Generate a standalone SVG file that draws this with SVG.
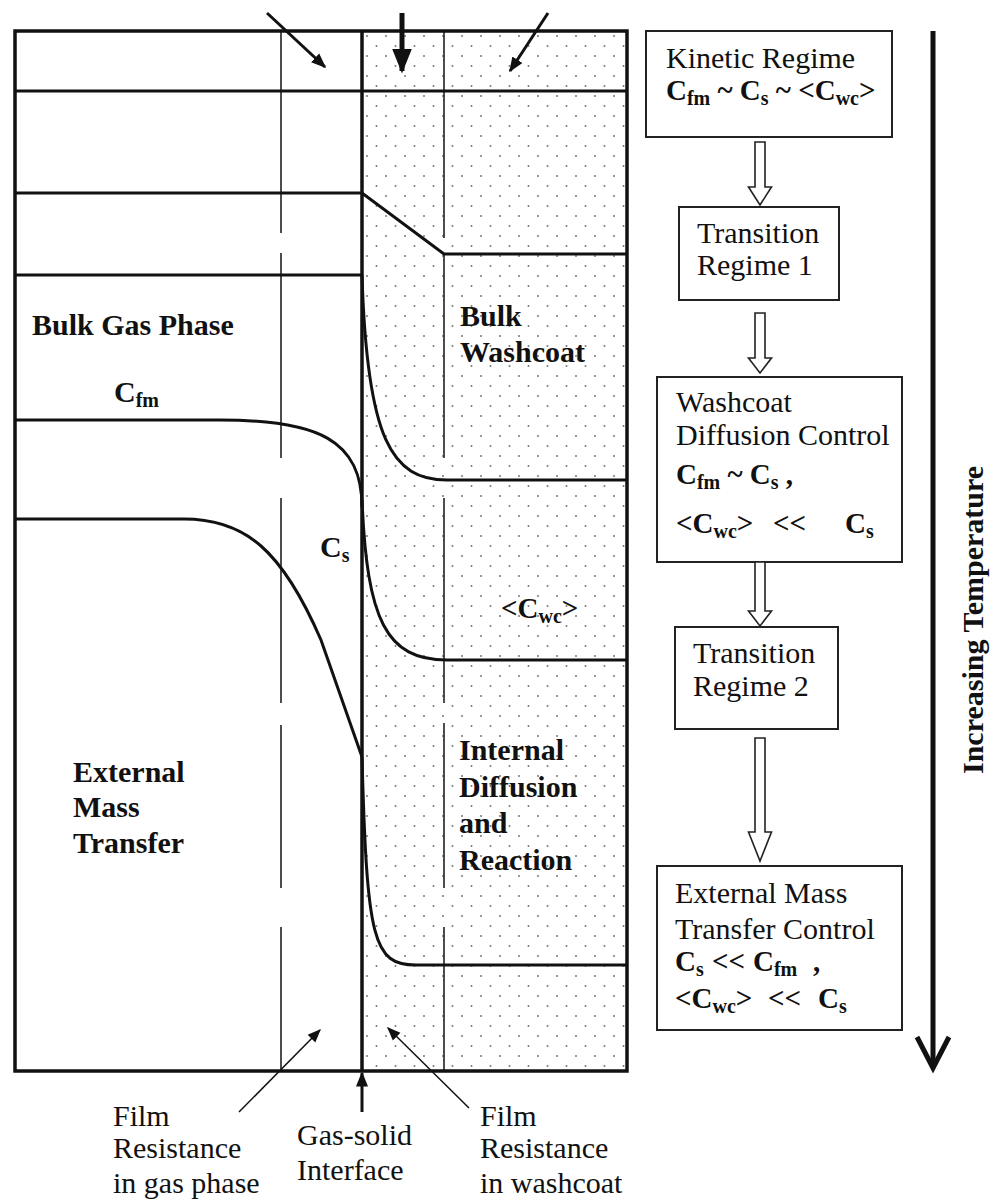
<svg xmlns="http://www.w3.org/2000/svg" width="990" height="1200" viewBox="0 0 990 1200">
<style>
.t{font-family:"Liberation Serif","Times New Roman",serif;fill:#111}
.b{font-weight:bold}
.r{font-size:30px}
.lb{font-size:30px;font-weight:bold}
.box{fill:#fff;stroke:#222;stroke-width:2}
.prof{fill:none;stroke:#111;stroke-width:3}
.dash{fill:none;stroke:#222;stroke-width:1.6}
.blk{fill:#fff;stroke:#222;stroke-width:1.6}
.ar{fill:none;stroke:#111}
</style>
<defs>
<pattern id="dots" x="362" y="31" width="19" height="20" patternUnits="userSpaceOnUse">
<circle cx="5" cy="5" r="1" fill="#777"/>
<circle cx="14.5" cy="15" r="1" fill="#777"/>
</pattern>
<marker id="ah" viewBox="0 0 10 10" refX="9" refY="5" markerWidth="5" markerHeight="5" orient="auto" markerUnits="strokeWidth">
<path d="M0,1 L10,5 L0,9 Z" fill="#111"/>
</marker>
<marker id="ahs" viewBox="0 0 10 10" refX="9" refY="5" markerWidth="9" markerHeight="9" orient="auto" markerUnits="strokeWidth">
<path d="M0,1 L10,5 L0,9 Z" fill="#111"/>
</marker>
</defs>
<rect width="990" height="1200" fill="#fff"/>

<g id="channel">
<rect x="362" y="31" width="265" height="1040" fill="url(#dots)"/>
<g id="dashed-lines">
<path class="dash" d="M281,31V233M281,253V458M281,498V703M281,725V888M281,927V1071"/>
<path class="dash" d="M444,31V238M444,254V458M444,498V703M444,723V888M444,927V1071"/>
</g>
<line x1="362" y1="31" x2="362" y2="1071" stroke="#111" stroke-width="3.5"/>
<rect x="15" y="31" width="612" height="1040" fill="none" stroke="#111" stroke-width="3.5"/>
</g>

<g id="profiles">
<path class="prof" d="M15,91H627"/>
<path class="prof" d="M15,193H362L444,254H627"/>
<path class="prof" d="M15,275H362"/>
<path class="prof" d="M362,275C367,440 392,480 447,480H627"/>
<path class="prof" d="M15,420H220C318,420 362,440 362,507"/>
<path class="prof" d="M362,500C367,620 386,660 447,660H627"/>
<path class="prof" d="M15,519H184C245,519 282,550 321,640L362,757"/>
<path class="prof" d="M362,757C367,940 373,965 416,965H627"/>
</g>

<g id="labels-left">
<text class="t lb" x="32" y="335">Bulk Gas Phase</text>
<text class="t b" x="114" y="402" font-size="30">C<tspan font-size="20" dy="5">fm</tspan></text>
<text class="t lb" x="460" y="326">Bulk</text>
<text class="t lb" x="460" y="362">Washcoat</text>
<text class="t b" x="320" y="557" font-size="30">C<tspan font-size="20" dy="5">s</tspan></text>
<text class="t b" x="501" y="618" font-size="29">&lt;C<tspan font-size="20" dy="5">wc</tspan><tspan dy="-5">&gt;</tspan></text>
<text class="t lb" x="73" y="782">External</text>
<text class="t lb" x="73" y="817">Mass</text>
<text class="t lb" x="73" y="853">Transfer</text>
<text class="t lb" x="459" y="760">Internal</text>
<text class="t lb" x="459" y="797">Diffusion</text>
<text class="t lb" x="459" y="833">and</text>
<text class="t lb" x="459" y="870">Reaction</text>
</g>

<g id="labels-bottom">
<text class="t r" x="113" y="1126">Film</text>
<text class="t r" x="113" y="1158">Resistance</text>
<text class="t r" x="113" y="1193">in gas phase</text>
<text class="t r" x="297" y="1145">Gas-solid</text>
<text class="t r" x="297" y="1180">Interface</text>
<text class="t r" x="480" y="1126">Film</text>
<text class="t r" x="480" y="1158">Resistance</text>
<text class="t r" x="480" y="1193">in washcoat</text>
</g>

<g id="node-kinetic">
<rect class="box" x="646" y="31" width="246" height="106"/>
<text class="t r" x="666" y="68">Kinetic Regime</text>
<text class="t b" x="666" y="100" font-size="29">C<tspan font-size="20" dy="5">fm</tspan><tspan dy="-5"> ~ C</tspan><tspan font-size="20" dy="5">s</tspan><tspan dy="-5"> ~ &lt;C</tspan><tspan font-size="20" dy="5">wc</tspan><tspan dy="-5">&gt;</tspan></text>
</g>
<g id="node-transition1">
<rect class="box" x="679" y="207" width="160" height="93"/>
<text class="t r" x="697" y="243">Transition</text>
<text class="t r" x="697" y="275">Regime 1</text>
</g>
<g id="node-washcoat">
<rect class="box" x="657" y="377" width="245" height="185"/>
<text class="t r" x="676" y="412">Washcoat</text>
<text class="t r" x="676" y="445">Diffusion Control</text>
<text class="t b" x="676" y="484" font-size="29">C<tspan font-size="20" dy="5">fm</tspan><tspan dy="-5"> ~ C</tspan><tspan font-size="20" dy="5">s</tspan><tspan dy="-5"> ,</tspan></text>
<text class="t b" x="676" y="533" font-size="29">&lt;C<tspan font-size="20" dy="5">wc</tspan><tspan dy="-5">&gt;</tspan></text>
<text class="t b" x="773" y="533" font-size="29">&lt;&lt;</text>
<text class="t b" x="845" y="533" font-size="29">C<tspan font-size="20" dy="5">s</tspan></text>
</g>
<g id="node-transition2">
<rect class="box" x="675" y="627" width="163" height="102"/>
<text class="t r" x="693" y="663">Transition</text>
<text class="t r" x="693" y="696">Regime 2</text>
</g>
<g id="node-external">
<rect class="box" x="657" y="866" width="245" height="164"/>
<text class="t r" x="675" y="903">External Mass</text>
<text class="t r" x="675" y="939">Transfer Control</text>
<text class="t b" x="675" y="971" font-size="29">C<tspan font-size="20" dy="5">s</tspan></text>
<text class="t b" x="712" y="971" font-size="29">&lt;&lt;</text>
<text class="t b" x="753" y="971" font-size="29">C<tspan font-size="20" dy="5">fm</tspan></text>
<text class="t b" x="813" y="971" font-size="29">,</text>
<text class="t b" x="675" y="1008" font-size="29">&lt;C<tspan font-size="20" dy="5">wc</tspan><tspan dy="-5">&gt;</tspan></text>
<text class="t b" x="768" y="1008" font-size="29">&lt;&lt;</text>
<text class="t b" x="818" y="1008" font-size="29">C<tspan font-size="20" dy="5">s</tspan></text>
</g>
<g id="node-temperature">
<text class="t b" font-size="30" text-anchor="middle" transform="translate(983,620) rotate(-90)">Increasing Temperature</text>
</g>

<g id="connectors">
<path class="blk" d="M755,142H765V187H771.5L760,205L748.5,187H755Z"/>
<path class="blk" d="M755,313H765V358H771.5L760,373L748.5,358H755Z"/>
<path class="blk" d="M755,562H765V611H771.5L760,626L748.5,611H755Z"/>
<path class="blk" d="M755,738H765V832H771.5L760,861L748.5,832H755Z"/>
<line class="ar" x1="933" y1="31" x2="933" y2="1066" stroke-width="5"/>
<path class="ar" d="M917,1037L933,1068L949,1037" stroke-width="5"/>
<line class="ar" x1="267" y1="13" x2="325" y2="67" stroke-width="3" marker-end="url(#ah)"/>
<line class="ar" x1="402" y1="13" x2="402" y2="71" stroke-width="5" marker-end="url(#ah)"/>
<line class="ar" x1="548" y1="13" x2="510" y2="71" stroke-width="3" marker-end="url(#ah)"/>
<line class="ar" x1="239" y1="1112" x2="320" y2="1030" stroke-width="1.5" marker-end="url(#ahs)"/>
<line class="ar" x1="362" y1="1112" x2="362" y2="1073" stroke-width="3" marker-end="url(#ah)"/>
<line class="ar" x1="469" y1="1108" x2="388" y2="1028" stroke-width="1.5" marker-end="url(#ahs)"/>
</g>
</svg>
